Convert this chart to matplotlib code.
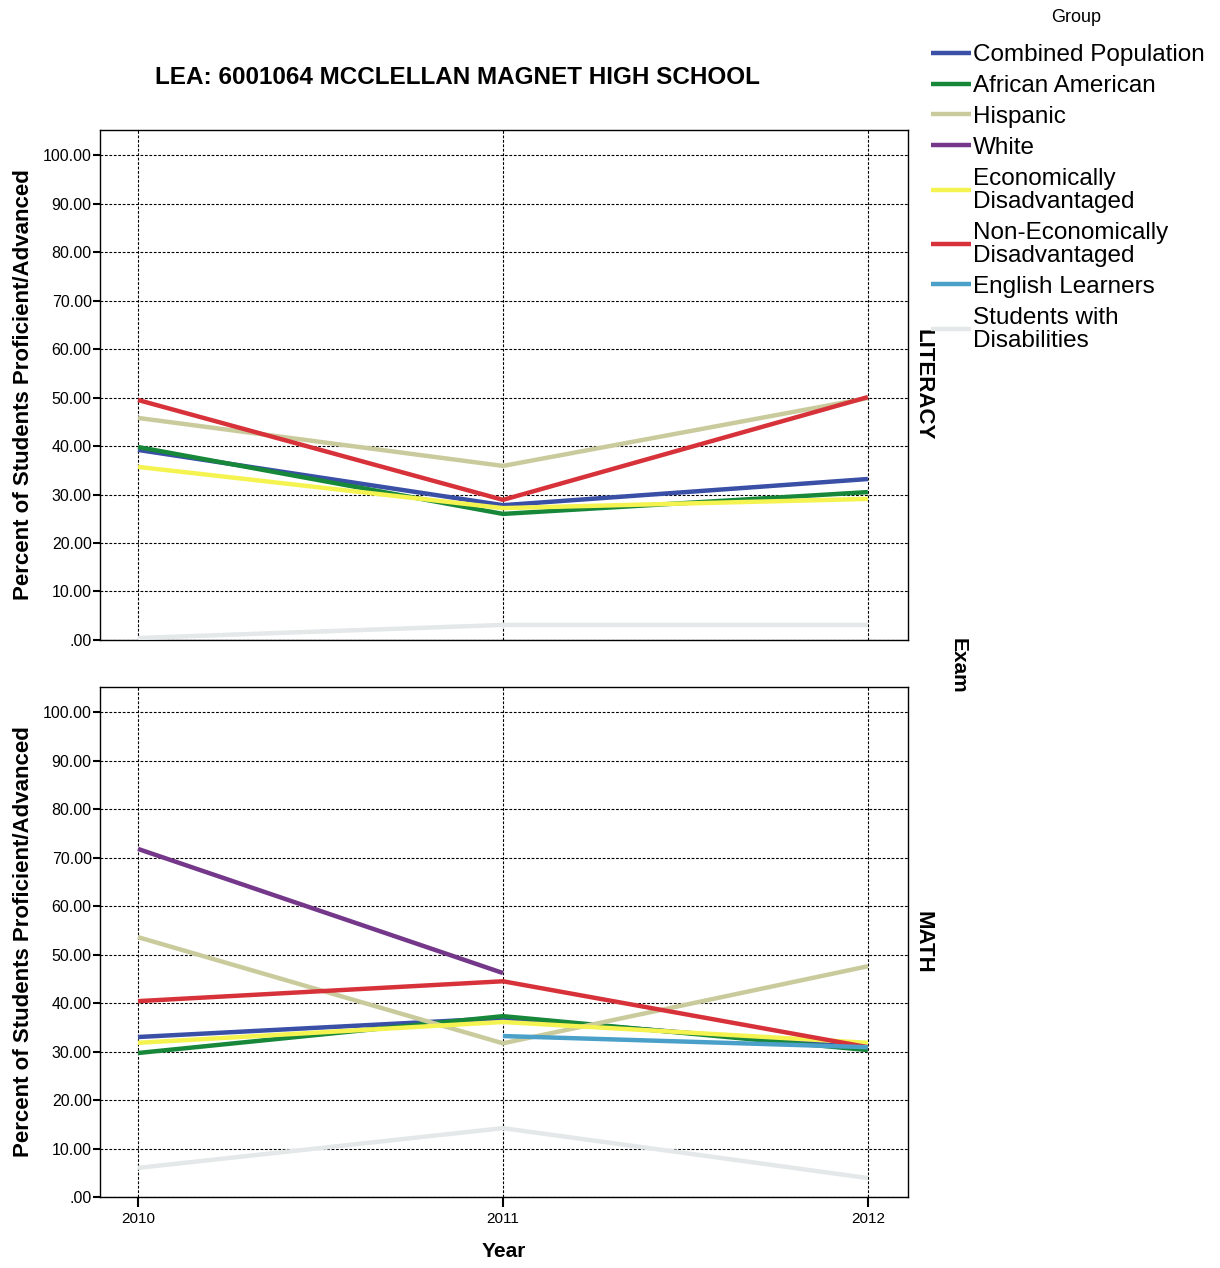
import numpy as np
import matplotlib.pyplot as plt
from matplotlib.ticker import FuncFormatter

plt.rcParams['font.family'] = ['Liberation Sans', 'DejaVu Sans']

years = [2010, 2011, 2012]
groups = ["Combined Population", "African American", "Hispanic", "White",
          "Economically\nDisadvantaged", "Non-Economically\nDisadvantaged",
          "English Learners", "Students with\nDisabilities"]
colors = ["#3a4fa6", "#17873a", "#cacb9c", "#74378a",
          "#f4f350", "#d7323a", "#4aa0c9", "#e4e8e9"]

nan = np.nan
# LITERACY exam
literacy = {
    "Combined Population": [39.2, 27.8, 33.2],
    "African American": [39.8, 26.0, 30.5],
    "Hispanic": [45.8, 35.9, 49.9],
    "White": [nan, nan, nan],
    "Economically\nDisadvantaged": [35.7, 27.2, 29.1],
    "Non-Economically\nDisadvantaged": [49.5, 28.9, 50.1],
    "English Learners": [nan, nan, nan],
    "Students with\nDisabilities": [0.4, 3.1, 3.1],
}
# MATH exam
math = {
    "Combined Population": [33.0, 36.9, 30.9],
    "African American": [29.7, 37.3, 30.3],
    "Hispanic": [53.6, 31.7, 47.6],
    "White": [71.8, 46.2, nan],
    "Economically\nDisadvantaged": [31.8, 36.1, 31.8],
    "Non-Economically\nDisadvantaged": [40.4, 44.5, 30.9],
    "English Learners": [nan, 33.2, 30.9],
    "Students with\nDisabilities": [6.0, 14.2, 3.9],
}

fig = plt.figure(figsize=(12.2, 12.68), dpi=100)
ax_top = fig.add_axes([0.082, 0.4953, 0.6623, 0.4022])
ax_bot = fig.add_axes([0.082, 0.056, 0.6623, 0.4022])

fmt = FuncFormatter(lambda v, p: f"{v:.2f}".lstrip("0") if v < 1 else f"{v:.2f}")

handles = []
for ax, data, name in [(ax_top, literacy, "LITERACY"), (ax_bot, math, "MATH")]:
    for g, c in zip(groups, colors):
        ln, = ax.plot(years, data[g], color=c, lw=3.2, solid_capstyle='butt', zorder=3)
        if ax is ax_top:
            handles.append(ln)
    ax.set_xlim(2009.896, 2012.11)
    ax.set_ylim(0, 105.2)
    ax.set_yticks(np.arange(0, 101, 10))
    ax.yaxis.set_major_formatter(fmt)
    ax.set_xticks(years)
    ax.grid(True, color='black', linestyle=(0, (2.5, 1.5)), lw=0.8)
    ax.tick_params(axis='y', labelsize=11.5, length=5, width=1.5, direction='out', pad=1)
    ax.tick_params(axis='x', labelsize=11, length=7, width=1.5, direction='out')
    for s in ax.spines.values():
        s.set_linewidth(1.0)
    ax.set_ylabel("Percent of Students Proficient/Advanced", fontsize=16,
                  fontweight='bold', labelpad=6)
    ax.text(1.006, 0.5, name, transform=ax.transAxes, rotation=-90,
            ha='left', va='center', fontsize=16, fontweight='bold')

ax_top.tick_params(axis='x', labelbottom=False, length=0)
ax_bot.set_xticklabels([str(y) for y in years])
ax_bot.set_xlabel("Year", fontsize=15, fontweight='bold', labelpad=12)

fig.text(0.375, 0.939, "LEA: 6001064 MCCLELLAN MAGNET HIGH SCHOOL",
         ha='center', va='center', fontsize=17.5, fontweight='bold')
fig.text(0.785, 0.475, "Exam", rotation=-90, ha='center', va='center',
         fontsize=15, fontweight='bold')

leg = fig.legend(handles, groups, loc='upper left', bbox_to_anchor=(0.749, 1.006),
                 title="Group", frameon=False, fontsize=17.5, title_fontsize=13,
                 handlelength=1.65, handletextpad=0.08, labelspacing=0.36,
                 borderaxespad=0.3)
for t in leg.get_texts():
    t.set_linespacing(1.08)
leg._legend_box.align = "left"
leg._legend_box.sep = 13
leg.get_title().set_position((120, 0))

fig.savefig("out.png", dpi=100)
